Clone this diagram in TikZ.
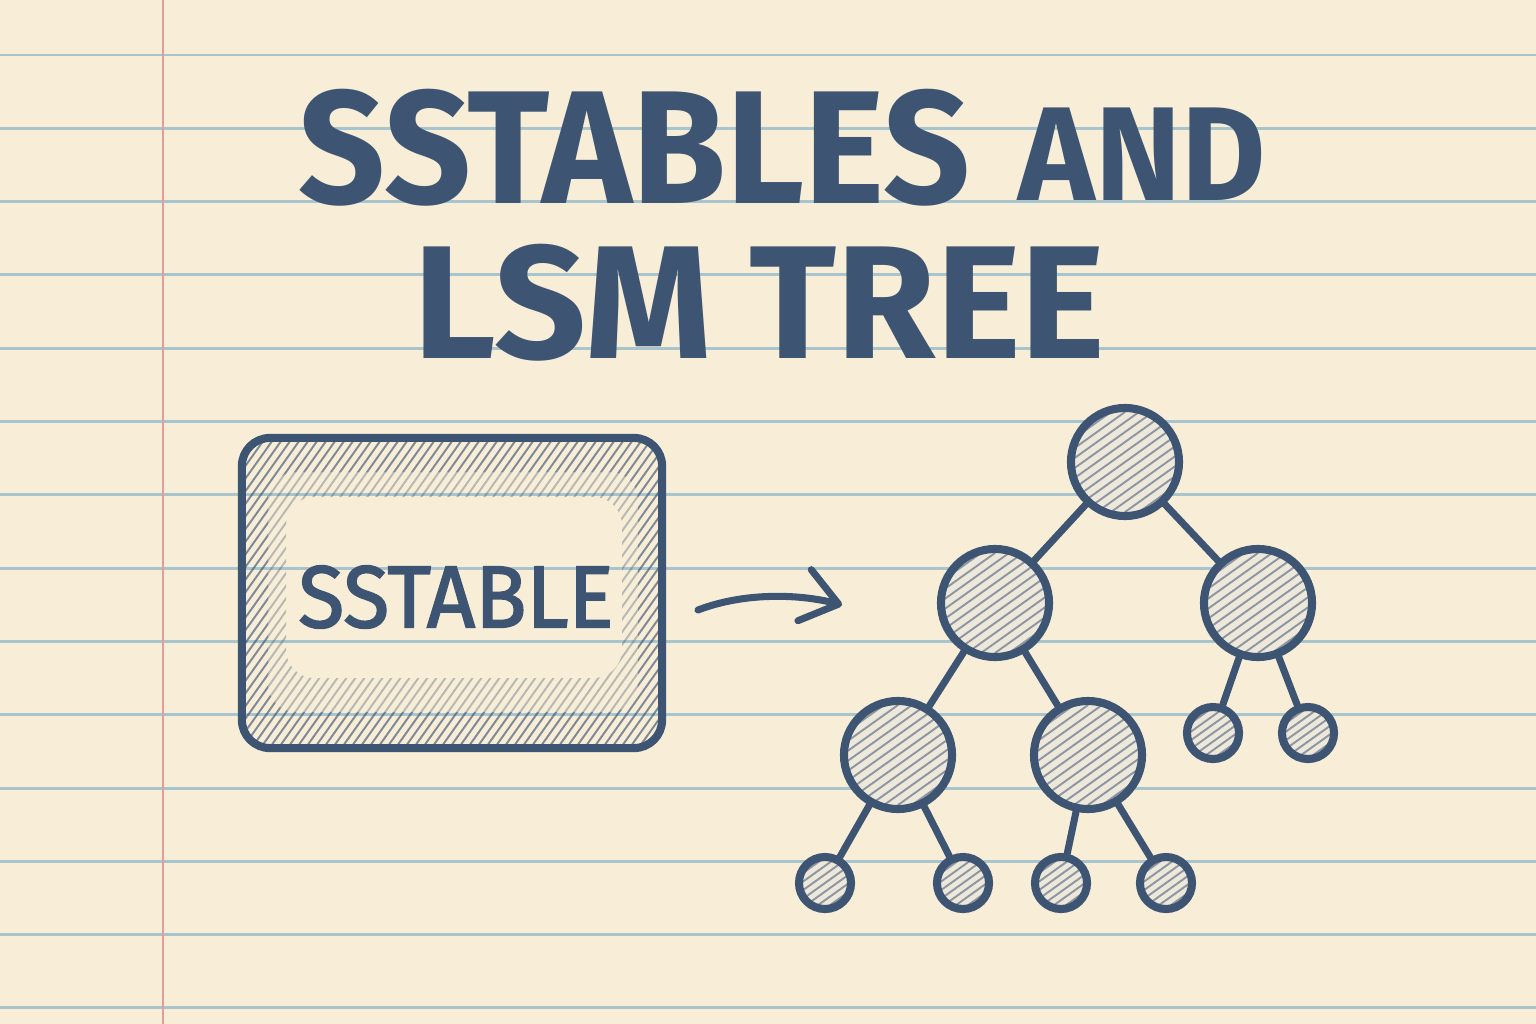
\documentclass[tikz,border=0pt]{standalone}
\usepackage{fontspec}
\setmainfont{Fira Sans}
\usetikzlibrary{arrows.meta}
\definecolor{paper}{HTML}{F8EED8}
\definecolor{rulecol}{HTML}{A8C4CC}
\definecolor{margincol}{HTML}{E59C9C}
\definecolor{ink}{HTML}{3D5473}
\definecolor{nodefill}{HTML}{EEE8DB}
\begin{document}
\begin{tikzpicture}[x=0.01cm,y=-0.01cm,
  inkline/.style={draw=ink,line width=2.3pt},
  hatchline/.style={draw=ink,line width=0.55pt,opacity=0.55},
  edgeline/.style={draw=ink,line width=2pt,line cap=round},
  bignode/.style={circle,inkline,fill=nodefill,minimum size=1.08cm,inner sep=0pt,
    path picture={\foreach \k in {-8,...,8}{\draw[hatchline] ([shift={(\k*14-70,50)}]path picture bounding box.center) -- ++(140,-100);}}},
  leafnode/.style={circle,inkline,fill=nodefill,minimum size=0.52cm,inner sep=0pt,
    path picture={\foreach \k in {-5,...,5}{\draw[hatchline] ([shift={(\k*12-35,25)}]path picture bounding box.center) -- ++(70,-50);}}},
  titletext/.style={anchor=base west,inner sep=0pt,text=ink},
]
\useasboundingbox (0,0) rectangle (1536,1024);
\fill[paper] (0,0) rectangle (1536,1024);
\foreach \k in {0,...,13}{\draw[rulecol,line width=0.85pt] (0,55+\k*73.3) -- (1536,55+\k*73.3);}
\draw[margincol,line width=0.85pt] (163,0) -- (163,1024);

% title
\node[titletext,font=\fontsize{45.8}{50}\selectfont\bfseries] (t1) at (298,203) {\scalebox{0.945}[1]{SSTABLES}};
\node[titletext,font=\fontsize{38}{42}\selectfont\bfseries] (t2) at (1018,200) {\scalebox{0.97}[1]{AND}};
\node[titletext,font=\fontsize{45.8}{50}\selectfont\bfseries] (t3) at (413,358) {LSM TREE};

% box hatching
\begin{scope}[even odd rule,rounded corners=8pt]
  \clip (242,438) rectangle (662,748) (268,472) rectangle (638,712);
  \foreach \a in {0,9,...,690}{\draw[hatchline,opacity=0.65,sharp corners] (\a,760) -- ++(235,-330);}
\end{scope}
\begin{scope}[even odd rule,rounded corners=8pt]
  \clip (268,472) rectangle (638,712) (286,497) rectangle (622,678);
  \foreach \a in {0,9,...,690}{\draw[hatchline,opacity=0.35,sharp corners] (\a,760) -- ++(235,-330);}
\end{scope}
\node[inkline,rounded corners=8pt,minimum width=4.2cm,minimum height=3.1cm,inner sep=0pt] (ssbox) at (452,593) {};
\node[text=ink,inner sep=0pt,font=\fontsize{25}{28}\selectfont\addfontfeature{FakeBold=2}] (sslabel) at (456,597) {\scalebox{0.96}[1]{SSTABLE}};

% arrow
\coordinate (ast) at (698,610);
\coordinate (aen) at (842,605);
\draw[edgeline,-{Straight Barb[length=10pt,width=15pt,round]}] (ast) .. controls (745,592) and (800,594) .. (aen);

% tree
\node[bignode] (root) at (1125,462) {};
\node[bignode] (l) at (995,603) {};
\node[bignode] (r) at (1258,603) {};
\node[bignode] (ll) at (898,755) {};
\node[bignode] (lr) at (1088,755) {};
\node[leafnode] (rl) at (1213,733) {};
\node[leafnode] (rr) at (1308,733) {};
\node[leafnode] (lll) at (825,883) {};
\node[leafnode] (llr) at (963,883) {};
\node[leafnode] (lrl) at (1061,883) {};
\node[leafnode] (lrr) at (1166,883) {};
\foreach \p/\c in {root/l,root/r,l/ll,l/lr,r/rl,r/rr,ll/lll,ll/llr,lr/lrl,lr/lrr}{
  \draw[edgeline] (\p) -- (\c);
}
\end{tikzpicture}
\end{document}
